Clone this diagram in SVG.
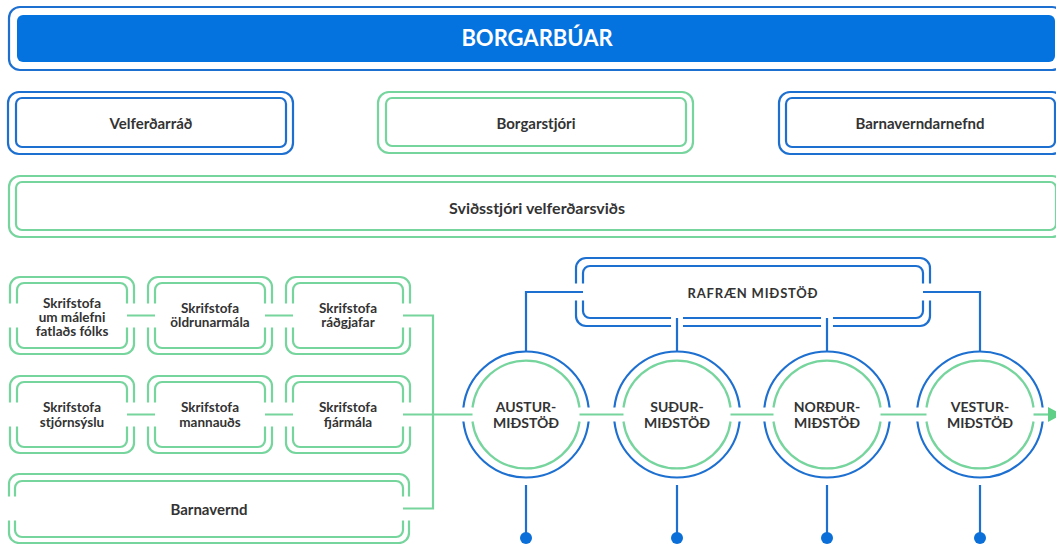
<svg xmlns="http://www.w3.org/2000/svg" xmlns:xlink="http://www.w3.org/1999/xlink" width="1056" height="544" viewBox="0 0 1056 544">
<style>
.b{fill:none;stroke:#1d6fd0;stroke-width:2.2}
.g{fill:none;stroke:#76d49d;stroke-width:2.2}
.t{font-family:Lato,"Noto Sans","DejaVu Sans",sans-serif;font-weight:bold;fill:#333;text-anchor:middle}
.t13{font-size:13.5px}
.t14{font-size:14px}
.t15{font-size:15px}
.cw{fill:#fff;font-size:22px}
.dot{fill:#0a6fd8}
</style>
<defs>
<g id="sbox">
<path class="g" d="M0,26.5V10A10,10 0 0 1 10,0H114A10,10 0 0 1 124,10V26.5M0,50.5V67A10,10 0 0 0 10,77H114A10,10 0 0 0 124,67V50.5"/>
<path class="g" d="M7,26.5V13A7,7 0 0 1 14,6H110A7,7 0 0 1 117,13V26.5M7,50.5V64A7,7 0 0 0 14,71H110A7,7 0 0 0 117,64V50.5"/>
</g>
<g id="circ">
<path class="b" d="M-62.61,-7A63,63 0 0 1 62.61,-7M-62.61,7A63,63 0 0 0 62.61,7"/>
<path class="g" d="M-53.54,-7A54,54 0 0 1 53.54,-7M-53.54,7A54,54 0 0 0 53.54,7"/>
</g>
<marker id="arr" markerWidth="8" markerHeight="8" refX="0" refY="4" orient="auto" markerUnits="userSpaceOnUse" viewBox="0 0 8 8" overflow="visible">
<path d="M0,-3.5L14,4L0,11.5Z" fill="#5fcf88"/>
</marker>
</defs>

<g id="borgarbuar">
<rect class="b" x="9" y="7" width="1054" height="63" rx="11"/>
<rect x="17" y="15" width="1038" height="47" rx="6" fill="#0473e0"/>
<text class="t cw" x="537" y="46">BORGARBÚAR</text>
</g>

<g id="velferdarrad">
<rect class="b" x="8" y="92" width="285" height="62" rx="11"/>
<rect class="b" x="16" y="98" width="270" height="49" rx="6"/>
<text class="t t15" x="151" y="128.5">Velferðarráð</text>
</g>

<g id="borgarstjori">
<rect class="g" x="378" y="92" width="315" height="61" rx="11"/>
<rect class="g" x="386" y="98" width="300" height="48" rx="6"/>
<text class="t t15" x="536" y="128.5">Borgarstjóri</text>
</g>

<g id="barnaverndarnefnd">
<rect class="b" x="779" y="92" width="284" height="62" rx="11"/>
<rect class="b" x="786" y="98" width="269" height="49" rx="6"/>
<text class="t t15" x="920" y="128.5">Barnaverndarnefnd</text>
</g>

<g id="svidsstjori">
<rect class="g" x="9" y="176" width="1054" height="61" rx="11"/>
<rect class="g" x="16" y="182" width="1040" height="48" rx="6"/>
<text class="t" font-size="16" x="537" y="214">Sviðsstjóri velferðarsviðs</text>
</g>

<g id="connectors">
<path class="g" d="M127,315.5H155M265,315.5H293M403,315.5H433V508.5H403"/>
<path class="g" d="M127,414.5H155M265,414.5H293M403,414.5H472.5"/>
<path class="g" d="M579.5,414.5H623.5M730.5,414.5H773.5M880.5,414.5H926.5"/>
<path class="g" d="M1033.5,414.5H1048" marker-end="url(#arr)"/>
<path class="b" d="M583,292H526V351.5M923,292H980V351.5M677,318V351.5M827,318V351.5"/>
<path class="b" d="M526,485V536M677,485V536M827,485V536M980,485V536"/>
<circle class="dot" cx="526" cy="538" r="6"/>
<circle class="dot" cx="677" cy="538" r="6"/>
<circle class="dot" cx="827" cy="538" r="6"/>
<circle class="dot" cx="980" cy="538" r="6"/>
</g>

<g id="skr-fatlads">
<use xlink:href="#sbox" href="#sbox" x="10" y="277"/>
<text class="t t13" x="72" y="307.5">Skrifstofa</text>
<text class="t t13" x="72" y="321.5">um málefni</text>
<text class="t t13" x="72" y="335.5">fatlaðs fólks</text>
</g>

<g id="skr-oldrunar">
<use xlink:href="#sbox" href="#sbox" x="148" y="277"/>
<text class="t t13" x="210" y="312.5">Skrifstofa</text>
<text class="t t13" x="210" y="326.5">öldrunarmála</text>
</g>

<g id="skr-radgjafar">
<use xlink:href="#sbox" href="#sbox" x="286" y="277"/>
<text class="t t13" x="348" y="312.5">Skrifstofa</text>
<text class="t t13" x="348" y="326.5">ráðgjafar</text>
</g>

<g id="skr-stjornsyslu">
<use xlink:href="#sbox" href="#sbox" x="10" y="376"/>
<text class="t t13" x="72" y="411.5">Skrifstofa</text>
<text class="t t13" x="72" y="426.5">stjórnsýslu</text>
</g>

<g id="skr-mannauds">
<use xlink:href="#sbox" href="#sbox" x="148" y="376"/>
<text class="t t13" x="210" y="411.5">Skrifstofa</text>
<text class="t t13" x="210" y="426.5">mannauðs</text>
</g>

<g id="skr-fjarmala">
<use xlink:href="#sbox" href="#sbox" x="286" y="376"/>
<text class="t t13" x="348" y="411.5">Skrifstofa</text>
<text class="t t13" x="348" y="426.5">fjármála</text>
</g>

<g id="barnavernd">
<path class="g" d="M9,496.5V484A10,10 0 0 1 19,474H399A10,10 0 0 1 409,484V496.5M9,520.5V533A10,10 0 0 0 19,543H399A10,10 0 0 0 409,533V520.5"/>
<path class="g" d="M15,496.5V488A7,7 0 0 1 22,481H396A7,7 0 0 1 403,488V496.5M15,520.5V530A7,7 0 0 0 22,537H396A7,7 0 0 0 403,530V520.5"/>
<text class="t t15" x="209" y="514.5">Barnavernd</text>
</g>

<g id="rafraen">
<path class="b" d="M576,283.5V268A10,10 0 0 1 586,258H920A10,10 0 0 1 930,268V283.5M930,300.5V316A10,10 0 0 1 920,326H833M821,326H683M671,326H586A10,10 0 0 1 576,316V300.5"/>
<path class="b" d="M583,283.5V273A7,7 0 0 1 590,266H916A7,7 0 0 1 923,273V283.5M923,300.5V311A7,7 0 0 1 916,318H833M821,318H683M671,318H590A7,7 0 0 1 583,311V300.5"/>
<text class="t" font-size="13" x="753" y="297.5" letter-spacing="0.8">RAFRÆN MIÐSTÖÐ</text>
</g>

<g id="austur">
<use xlink:href="#circ" href="#circ" x="526" y="414.5"/>
<text class="t t14" x="526" y="412">AUSTUR-</text>
<text class="t t14" x="526" y="428">MIÐSTÖÐ</text>
</g>

<g id="sudur">
<use xlink:href="#circ" href="#circ" x="677" y="414.5"/>
<text class="t t14" x="677" y="412">SUÐUR-</text>
<text class="t t14" x="677" y="428">MIÐSTÖÐ</text>
</g>

<g id="nordur">
<use xlink:href="#circ" href="#circ" x="827" y="414.5"/>
<text class="t t14" x="827" y="412">NORÐUR-</text>
<text class="t t14" x="827" y="428">MIÐSTÖÐ</text>
</g>

<g id="vestur">
<use xlink:href="#circ" href="#circ" x="980" y="414.5"/>
<text class="t t14" x="980" y="412">VESTUR-</text>
<text class="t t14" x="980" y="428">MIÐSTÖÐ</text>
</g>
</svg>
